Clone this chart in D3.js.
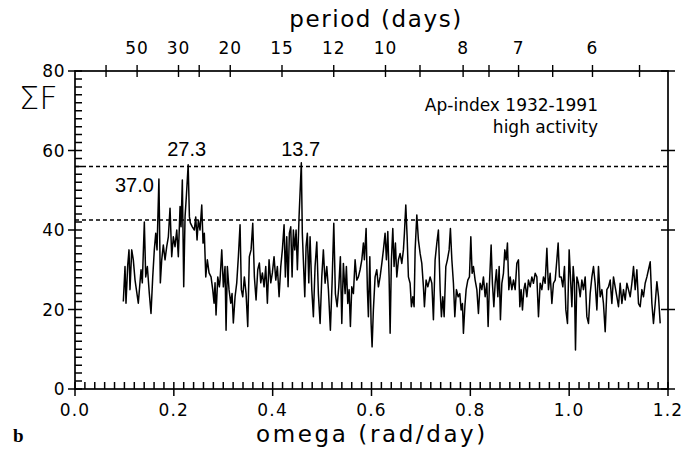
<!DOCTYPE html>
<html>
<head>
<meta charset="utf-8">
<script src="https://cdn.jsdelivr.net/npm/d3@7"></script>
<style>
  body { margin: 0; background: #fff; }
  svg { display: block; }
</style>
</head>
<body>
<svg id="chart" width="686" height="451"></svg>
<script>
// periodogram values
const omega = [
  0.0978, 0.1012, 0.1032, 0.1067, 0.1093, 0.1113, 0.1148, 0.1180, 0.1215, 0.1281,
  0.1336, 0.1362, 0.1403, 0.1431, 0.1464, 0.1504, 0.1538, 0.1573, 0.1605, 0.1634,
  0.1660, 0.1698, 0.1727, 0.1755, 0.1787, 0.1822, 0.1856, 0.1889, 0.1923, 0.1957,
  0.1990, 0.2024, 0.2059, 0.2091, 0.2126, 0.2146, 0.2172, 0.2200, 0.2227, 0.2253,
  0.2290, 0.2315, 0.2334, 0.2374, 0.2415, 0.2443, 0.2470, 0.2496, 0.2530, 0.2565,
  0.2591, 0.2617, 0.2646, 0.2678, 0.2713, 0.2753, 0.2787, 0.2814, 0.2834, 0.2854,
  0.2889, 0.2921,
  0.2935, 0.2970, 0.3002, 0.3036, 0.3057, 0.3083, 0.3117, 0.3152, 0.3178, 0.3204,
  0.3239, 0.3273, 0.3306, 0.3340, 0.3366, 0.3395, 0.3427, 0.3462, 0.3496, 0.3528,
  0.3563, 0.3597, 0.3630, 0.3664, 0.3698, 0.3731, 0.3759, 0.3792, 0.3826, 0.3860,
  0.3893, 0.3927, 0.3962, 0.3994, 0.4028, 0.4063, 0.4095, 0.4130, 0.4164, 0.4196,
  0.4231, 0.4257, 0.4285, 0.4312, 0.4338, 0.4366, 0.4393, 0.4419, 0.4447, 0.4474,
  0.4500, 0.4534, 0.4580, 0.4600, 0.4621, 0.4650, 0.4676, 0.4702, 0.4731, 0.4757,
  0.4792, 0.4824, 0.4858, 0.4893, 0.4925, 0.4960, 0.4994, 0.5026,
  0.5061, 0.5095, 0.5128, 0.5168, 0.5202, 0.5237, 0.5269, 0.5304, 0.5338, 0.5370,
  0.5399, 0.5431, 0.5466, 0.5492, 0.5520, 0.5547, 0.5573, 0.5601, 0.5634, 0.5668,
  0.5702, 0.5735, 0.5769, 0.5804, 0.5836, 0.5856, 0.5891, 0.5917, 0.5937, 0.5966,
  0.5992, 0.6012, 0.6038, 0.6073, 0.6107, 0.6140, 0.6174, 0.6209, 0.6241, 0.6275,
  0.6302, 0.6330, 0.6356, 0.6377, 0.6403, 0.6431, 0.6457, 0.6484, 0.6512, 0.6545,
  0.6579, 0.6613, 0.6646, 0.6666, 0.6694, 0.6721, 0.6747, 0.6781, 0.6808, 0.6836,
  0.6862, 0.6883, 0.6917, 0.6949, 0.6984, 0.7018, 0.7051, 0.7071, 0.7105, 0.7140,
  0.7172,
  0.7186, 0.7221, 0.7253, 0.7287, 0.7322, 0.7354, 0.7389, 0.7415, 0.7443, 0.7470,
  0.7504, 0.7536, 0.7571, 0.7597, 0.7626, 0.7658, 0.7686, 0.7719, 0.7753, 0.7787,
  0.7814, 0.7840, 0.7860, 0.7889, 0.7915, 0.7949, 0.7982, 0.8010, 0.8036, 0.8063,
  0.8097, 0.8132, 0.8164, 0.8198, 0.8233, 0.8265, 0.8300, 0.8334, 0.8360, 0.8387,
  0.8421, 0.8447, 0.8476, 0.8502, 0.8528, 0.8557, 0.8583, 0.8609, 0.8638, 0.8670,
  0.8698, 0.8725, 0.8751, 0.8779, 0.8806, 0.8840, 0.8873, 0.8907, 0.8941, 0.8974,
  0.9002, 0.9028, 0.9055, 0.9083, 0.9109, 0.9144, 0.9176, 0.9211, 0.9245, 0.9277,
  0.9312, 0.9346, 0.9379, 0.9413, 0.9447, 0.9480, 0.9514, 0.9549, 0.9581, 0.9615,
  0.9650, 0.9682, 0.9717, 0.9751, 0.9777, 0.9804, 0.9838, 0.9872, 0.9905, 0.9933,
  0.9966, 1.0000, 1.0026, 1.0055, 1.0081, 1.0107, 1.0128, 1.0156, 1.0188, 1.0223,
  1.0257, 1.0289, 1.0324, 1.0358, 1.0391, 1.0425, 1.0460, 1.0492, 1.0526, 1.0561,
  1.0593, 1.0628, 1.0662, 1.0694, 1.0729, 1.0763, 1.0796, 1.0830, 1.0864, 1.0897,
  1.0931, 1.0966, 1.0998, 1.1032, 1.1067, 1.1099, 1.1134, 1.1168, 1.1200, 1.1235,
  1.1269, 1.1302, 1.1336, 1.1370, 1.1403, 1.1437, 1.1472, 1.1504, 1.1538, 1.1573,
  1.1605, 1.1640, 1.1674, 1.1706, 1.1741, 1.1775, 1.1808, 1.1842
]

const sumF = [
  22.0, 30.8, 21.6, 31.2, 35.0, 25.0, 35.0, 32.5, 27.4, 21.6,
  30.0, 26.7, 42.0, 28.2, 30.8, 24.0, 19.0, 28.2, 35.0, 39.2,
  35.0, 52.8, 26.7, 32.5, 36.2, 32.5, 35.8, 38.3, 45.5, 33.3,
  38.3, 35.8, 40.0, 33.3, 45.9, 40.8, 52.6, 25.7, 43.3, 48.4,
  56.4, 43.3, 41.8, 40.8, 40.0, 43.3, 37.5, 42.5, 40.0, 46.3,
  36.7, 39.2, 28.2, 32.5, 29.2, 28.2, 25.0, 21.6, 26.7, 18.6,
  28.2, 25.7,
  27.4, 35.0, 25.7, 30.8, 14.8, 30.8, 25.0, 21.6, 24.0, 16.6,
  23.2, 26.7, 33.3, 41.3, 25.0, 23.2, 28.2, 24.0, 15.7, 33.3,
  35.0, 41.7, 28.2, 22.4, 30.0, 31.7, 26.7, 29.2, 25.7, 30.8,
  21.6, 32.5, 26.7, 29.2, 33.3, 27.4, 30.8, 23.2, 30.8, 35.0,
  41.3, 28.2, 38.3, 25.7, 39.2, 40.8, 28.2, 40.0, 35.0, 40.0,
  30.0, 43.3, 56.9, 39.2, 32.5, 23.2, 35.8, 39.2, 26.7, 38.3,
  25.0, 18.2, 30.8, 37.0, 24.0, 16.5, 28.2, 35.0,
  26.6, 30.8, 25.0, 14.8, 26.6, 41.7, 24.0, 20.7, 25.7, 33.3,
  16.5, 31.6, 24.0, 30.8, 21.5, 25.0, 15.7, 25.7, 24.0, 32.5,
  27.4, 28.2, 30.0, 32.5, 36.7, 32.5, 40.4, 25.0, 18.2, 33.3,
  16.5, 10.6, 19.9, 28.2, 30.0, 25.7, 28.2, 31.6, 35.0, 39.2,
  32.5, 39.6, 28.2, 14.0, 32.5, 40.4, 30.8, 36.7, 28.2, 32.5,
  34.1, 31.6, 35.0, 39.2, 46.3, 38.3, 28.2, 26.6, 20.7, 23.2,
  20.7, 35.0, 43.8, 37.5, 34.1, 31.6, 25.7, 20.7, 27.4, 25.7,
  27.4,
  28.2, 26.6, 17.4, 32.5, 36.7, 40.0, 25.0, 18.2, 23.2, 18.2,
  30.8, 32.5, 35.0, 40.4, 32.5, 26.6, 18.2, 25.0, 23.2, 24.0,
  19.9, 21.5, 14.0, 20.7, 25.0, 27.4, 28.2, 38.3, 29.1, 30.8,
  27.4, 25.0, 19.0, 26.6, 25.0, 28.2, 23.2, 26.6, 15.7, 26.6,
  36.2, 26.6, 20.7, 26.6, 30.0, 23.2, 30.8, 17.4, 26.6, 29.1,
  35.0, 32.5, 36.7, 25.0, 28.2, 25.0, 27.4, 25.0, 31.6, 32.5,
  20.7, 25.0, 19.9, 25.0, 26.6, 23.2, 27.4, 25.7, 28.2, 26.6,
  29.1, 28.2, 18.2, 26.6, 25.0, 28.2, 26.6, 35.4, 25.0, 29.1,
  21.5, 26.6, 27.4, 32.5, 36.7, 28.2, 28.2, 25.7, 30.8, 19.9,
  16.5, 35.0, 28.2, 20.7, 30.8, 26.6, 9.8, 28.2, 26.6, 23.2,
  27.4, 25.0, 28.2, 18.2, 16.5, 24.0, 28.2, 30.8, 26.6, 19.9,
  30.8, 23.2, 25.0, 21.5, 14.4, 25.0, 25.7, 27.4, 21.5, 28.2,
  25.7, 23.2, 20.7, 26.6, 21.5, 25.0, 22.4, 26.6, 25.0, 23.2,
  26.6, 30.8, 25.0, 30.0, 21.5, 20.7, 25.0, 23.2, 26.6, 28.2,
  30.0, 32.0, 21.5, 16.5, 21.5, 27.0, 23.2, 16.5
]

// significance levels (dashed lines)
const levels = [56, 42.5]

// labelled peaks (period in days)
const peaks = [37.0, 27.3, 13.7]

// axis ticks
const yMajor = [0, 20, 40, 60, 80]
const yMinor = [2, 4, 6, 8, 10, 12, 14, 16, 18, 22, 24, 26, 28, 30, 32, 34, 36, 38,
  42, 44, 46, 48, 50, 52, 54, 56, 58, 62, 64, 66, 68, 70, 72, 74, 76, 78]
const xMajor = [0, 0.2, 0.4, 0.6, 0.8, 1.0, 1.2]
const xMinor = d3.range(1, 60).filter(i => i % 10 !== 0).map(i => i * 0.02)
const periodTicks = [100, 50, 30, 25, 20, 15, 12, 10, 9, 8, 7.5, 7, 6.5, 6, 5.5]
const periodLabels = [50, 30, 20, 15, 12, 10, 8, 7, 6]

const svg = d3.select('#chart')
const m = { left: 75, right: 668, top: 71, bottom: 389 }

const x = d3.scaleLinear().domain([0, 1.2]).range([m.left, m.right])
const y = d3.scaleLinear().domain([0, 80]).range([m.bottom, m.top])

const axisFont = "'DejaVu Sans', sans-serif"
const labelFont = "'Liberation Sans', Arial, sans-serif"

// minor ticks drawn as one path each, so they sit under the frame
const minorYPath = yMinor.map(v => `M${m.left},${y(v)}h7`).join('')
svg.append('path')
  .attr('d', minorYPath)
  .attr('fill', 'none').attr('stroke', '#000').attr('stroke-width', 1.5)

const minorXPath = xMinor.map(v => `M${x(v)},${m.bottom}v-7`).join('')
svg.append('path')
  .attr('d', minorXPath)
  .attr('fill', 'none').attr('stroke', '#000').attr('stroke-width', 1.5)

// frame
svg.append('rect')
  .attr('x', m.left).attr('y', m.top)
  .attr('width', m.right - m.left).attr('height', m.bottom - m.top)
  .attr('fill', 'none').attr('stroke', '#000').attr('stroke-width', 1.7)

// left and right major ticks (crossing)
svg.append('g').selectAll('line').data(yMajor).join('line')
  .attr('x1', m.left - 7).attr('x2', m.left + 7)
  .attr('y1', d => y(d)).attr('y2', d => y(d))
  .attr('stroke', '#000').attr('stroke-width', 1.5)

svg.append('g').selectAll('line').data(yMajor).join('line')
  .attr('x1', m.right - 7).attr('x2', m.right + 7)
  .attr('y1', d => y(d)).attr('y2', d => y(d))
  .attr('stroke', '#000').attr('stroke-width', 1.5)

svg.append('g').selectAll('text').data(yMajor).join('text')
  .attr('x', m.left - 10).attr('y', d => y(d) + 6)
  .attr('text-anchor', 'end')
  .attr('font-family', axisFont).attr('font-size', 17)
  .attr('letter-spacing', 0.5)
  .text(d => d)

// bottom axis
svg.append('g').selectAll('line').data(xMajor).join('line')
  .attr('x1', d => x(d)).attr('x2', d => x(d))
  .attr('y1', m.bottom - 7).attr('y2', m.bottom + 7)
  .attr('stroke', '#000').attr('stroke-width', 1.5)

svg.append('g').selectAll('text').data(xMajor).join('text')
  .attr('x', d => x(d)).attr('y', m.bottom + 27)
  .attr('text-anchor', 'middle')
  .attr('font-family', axisFont).attr('font-size', 17)
  .attr('letter-spacing', 1.2)
  .text(d => d.toFixed(1))

// top axis: period in days, omega = 2*pi/P
svg.append('g').selectAll('line').data(periodTicks).join('line')
  .attr('x1', d => x(2 * Math.PI / d)).attr('x2', d => x(2 * Math.PI / d))
  .attr('y1', m.top - 6).attr('y2', m.top + 6)
  .attr('stroke', '#000').attr('stroke-width', 1.4)

svg.append('g').selectAll('text').data(periodLabels).join('text')
  .attr('x', d => x(2 * Math.PI / d)).attr('y', m.top - 17)
  .attr('text-anchor', 'middle')
  .attr('font-family', axisFont).attr('font-size', 17)
  .attr('letter-spacing', 1)
  .text(d => d)

// dashed significance levels
svg.append('g').selectAll('line').data(levels).join('line')
  .attr('x1', m.left).attr('x2', m.right)
  .attr('y1', d => y(d)).attr('y2', d => y(d))
  .attr('stroke', '#000').attr('stroke-width', 1.5)
  .attr('stroke-dasharray', '4,3')

// the spectrum
const pts = omega.map((w, i) => [w, sumF[i]])
svg.append('path')
  .datum(pts)
  .attr('fill', 'none').attr('stroke', '#000').attr('stroke-width', 1.5)
  .attr('stroke-linejoin', 'round')
  .attr('d', d3.line().x(d => x(d[0])).y(d => y(d[1])))

// peak labels
const peakLab = svg.append('g')
  .attr('font-family', labelFont).attr('font-size', 20)
peakLab.append('text')
  .attr('x', x(2 * Math.PI / peaks[0]) - 5).attr('y', y(49.5))
  .attr('text-anchor', 'end').text(peaks[0].toFixed(1))
peakLab.append('text')
  .attr('x', x(2 * Math.PI / peaks[1]) - 2).attr('y', y(58.5))
  .attr('text-anchor', 'middle').text(peaks[1].toFixed(1))
peakLab.append('text')
  .attr('x', x(2 * Math.PI / peaks[2]) - 1).attr('y', y(58.5))
  .attr('text-anchor', 'middle').text(peaks[2].toFixed(1))

// titles
svg.append('text')
  .attr('x', 376).attr('y', 27)
  .attr('text-anchor', 'middle')
  .attr('font-family', axisFont).attr('font-size', 23)
  .attr('letter-spacing', 1.6)
  .text('period (days)')

svg.append('text')
  .attr('x', 372).attr('y', 442)
  .attr('text-anchor', 'middle')
  .attr('font-family', axisFont).attr('font-size', 23)
  .attr('letter-spacing', 2.6)
  .text('omega (rad/day)')

svg.append('text')
  .attr('x', 598).attr('y', 111)
  .attr('text-anchor', 'end')
  .attr('font-family', axisFont).attr('font-size', 17)
  .text('Ap-index 1932-1991')

svg.append('text')
  .attr('x', 598).attr('y', 133)
  .attr('text-anchor', 'end')
  .attr('font-family', axisFont).attr('font-size', 17)
  .text('high activity')

svg.append('text')
  .attr('x', 19).attr('y', 109)
  .attr('font-family', axisFont).attr('font-size', 32)
  .attr('font-weight', 300)
  .text('ΣF')

svg.append('text')
  .attr('x', 13).attr('y', 442)
  .attr('font-family', "'Liberation Serif', serif").attr('font-weight', 'bold')
  .attr('font-size', 19)
  .text('b')
</script>
</body>
</html>
